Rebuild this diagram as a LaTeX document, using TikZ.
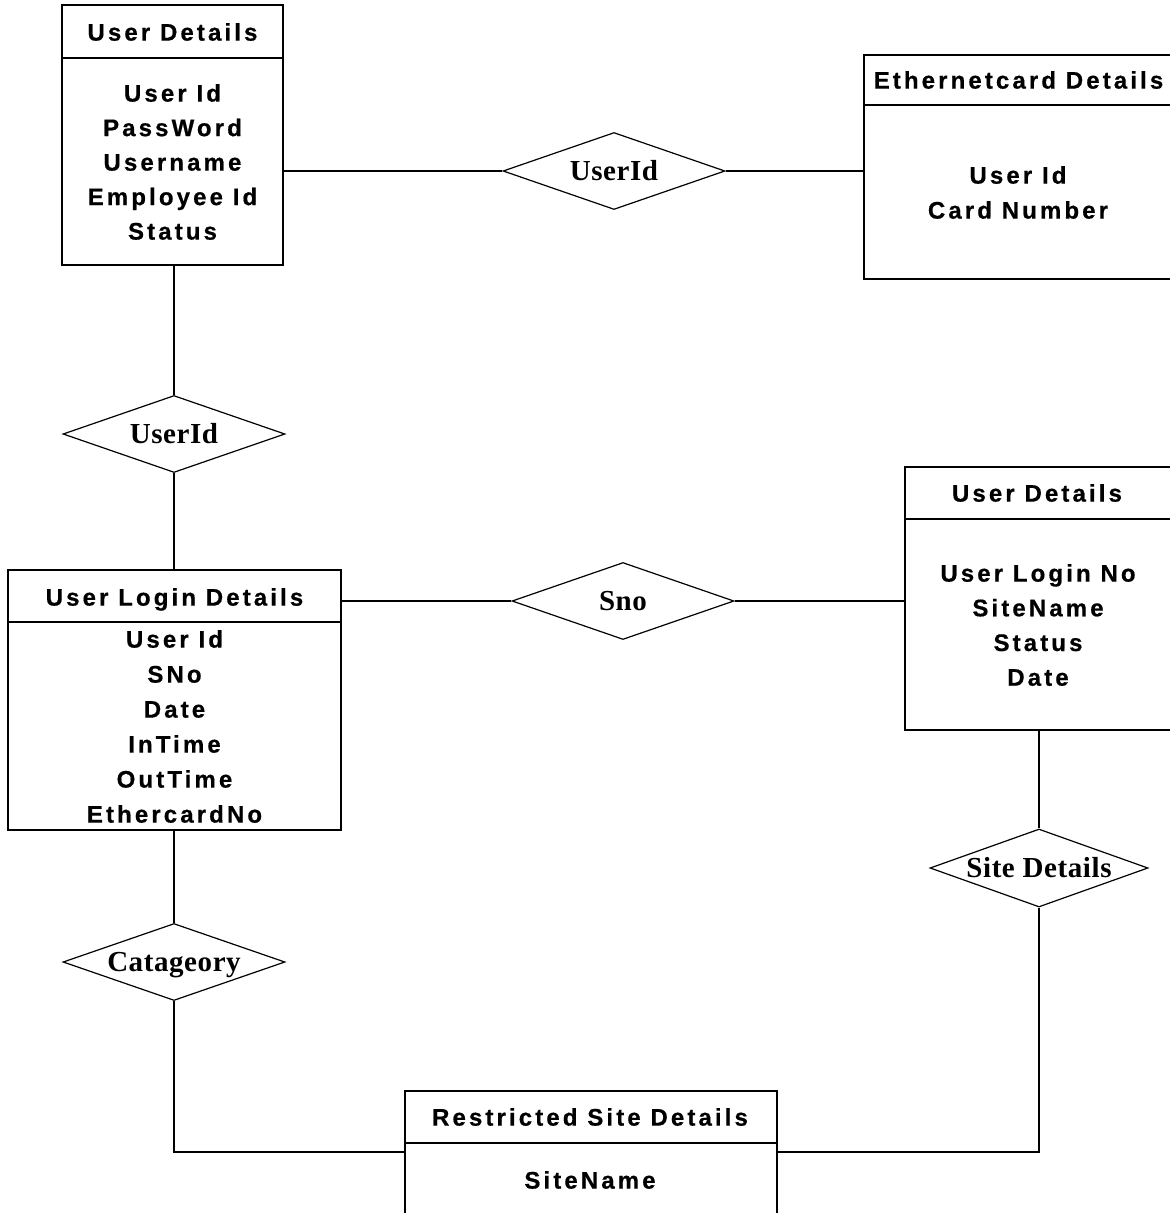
\documentclass[tikz,border=0pt]{standalone}
\usepackage{fontspec}
\setmainfont{Liberation Sans}
\newfontfamily\entfont{Liberation Sans}[LetterSpace=13,BoldFeatures={FakeBold=0.6}]
\newfontfamily\relfont{Liberation Serif}[LetterSpace=2]
\usetikzlibrary{shapes.geometric}

\begin{document}
\begin{tikzpicture}[x=1pt,y=-1pt,
  line width=1.2pt,
  entbox/.style={draw, rectangle, inner sep=0pt},
  enttext/.style={anchor=base, inner sep=0pt, font=\entfont\bfseries\fontsize{24}{24}\selectfont},
  rel/.style={draw, diamond, aspect=2.9, minimum width=222pt, minimum height=77pt,
    inner sep=0pt, text height=19pt, text depth=0pt,
    font=\relfont\bfseries\fontsize{29}{29}\selectfont},
  link/.style={draw, line width=1.2pt}]
\useasboundingbox (0,0) rectangle (1170,1213);

% ---- entity: User Details (top left)
\node[entbox, minimum width=221pt, minimum height=260pt] (ud) at (172.5,135) {};
\draw (ud.west |- 0,58) -- (ud.east |- 0,58);
\node[enttext] (udt) at (172.5,40.6) {User Details};
\foreach \t [count=\i] in {User Id, PassWord, Username, Employee Id, Status}
  \node[enttext] (uda\i) at ({172.5},{101.6+34.5*(\i-1)}) {\t};

% ---- entity: Ethernetcard Details
\node[entbox, minimum width=309pt, minimum height=224pt] (ec) at (1018.5,167) {};
\draw (ec.west |- 0,105) -- (ec.east |- 0,105);
\node[enttext] (ect) at (1018.5,88.6) {Ethernetcard Details};
\node[enttext] (eca1) at (1018,183.6) {User Id};
\node[enttext] (eca2) at (1018,218.6) {Card Number};

% ---- entity: User Login Details
\node[entbox, minimum width=333pt, minimum height=260pt] (ul) at (174.5,700) {};
\draw (ul.west |- 0,622) -- (ul.east |- 0,622);
\node[enttext] (ult) at (174.5,605.6) {User Login Details};
\foreach \t [count=\i] in {User Id, SNo, Date, InTime, OutTime, EthercardNo}
  \node[enttext] (ula\i) at ({174.5},{647.6+35*(\i-1)}) {\t};

% ---- entity: User Details (right)
\node[entbox, minimum width=268pt, minimum height=263pt] (us) at (1039,598.5) {};
\draw (us.west |- 0,519) -- (us.east |- 0,519);
\node[enttext] (ust) at (1037,501.6) {User Details};
\foreach \t [count=\i] in {User Login No, SiteName, Status, Date}
  \node[enttext] (usa\i) at ({1038},{581.6+34.7*(\i-1)}) {\t};

% ---- entity: Restricted Site Details
\node[entbox, minimum width=372pt, minimum height=127pt] (rs) at (591,1154.5) {};
\draw (rs.west |- 0,1143) -- (rs.east |- 0,1143);
\node[enttext] (rst) at (590,1125.6) {Restricted Site Details};
\node[enttext] (rsa1) at (590,1188.6) {SiteName};

% ---- relationships
\node[rel] (r1) at (614,171) {UserId};
\node[rel] (r2) at (174,434) {UserId};
\node[rel] (r3) at (623,601) {Sno};
\node[rel, minimum width=218pt, minimum height=78pt] (r4) at (1039,868) {Site Details};
\node[rel] (r5) at (174,962) {Catageory};

% ---- connectors
\coordinate (cl) at (174,1152);
\coordinate (cr) at (1039,1152);
\draw[link] (r1.west -| ud.east) -- (r1.west);
\draw[link] (r1.east) -- (r1.east -| ec.west);
\draw[link] (ud.south -| r2.north) -- (r2.north);
\draw[link] (r2.south) -- (r2.south |- ul.north);
\draw[link] (r3.west -| ul.east) -- (r3.west);
\draw[link] (r3.east) -- (r3.east -| us.west);
\draw[link] (us.south -| r4.north) -- (r4.north);
\draw[link] (r4.south) -- (cr) -- (cr -| rs.east);
\draw[link] (ul.south -| r5.north) -- (r5.north);
\draw[link] (r5.south) -- (cl) -- (cl -| rs.west);
\end{tikzpicture}
\end{document}
